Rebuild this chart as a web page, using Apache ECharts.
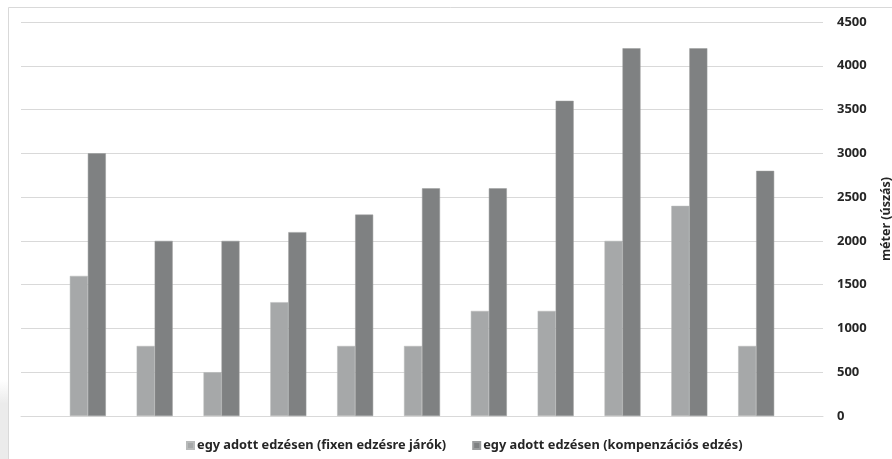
<!DOCTYPE html>
<html>
<head>
<meta charset="utf-8">
<script src="https://cdn.jsdelivr.net/npm/echarts@6/dist/echarts.min.js"></script>
<style>html,body{margin:0;padding:0;background:#fff;}#c{width:892px;height:459px;}</style>
</head>
<body>
<div id="c"></div>
<script>
const categories = ['1','2','3','4','5','6','7','8','9','10','11'];
const seriesNames = ['egy adott edzésen (fixen edzésre járók)', 'egy adott edzésen (kompenzációs edzés)'];
const fixValues = [1600, 800, 500, 1300, 800, 800, 1200, 1200, 2000, 2400, 800];
const kompValues = [3000, 2000, 2000, 2100, 2300, 2600, 2600, 3600, 4200, 4200, 2800];
const yTicks = [0, 500, 1000, 1500, 2000, 2500, 3000, 3500, 4000, 4500];
const axisName = 'méter (úszás)';

const pad = arr => [null].concat(arr, [null]);
const cats = [''].concat(categories, ['']);
const FONT = 'Noto Sans';

const chart = echarts.init(document.getElementById('c'), null, {renderer: 'canvas'});
chart.setOption({
  animation: false,
  backgroundColor: '#fff',
  graphic: [
    {type: 'rect', shape: {x: 0, y: 380, width: 8, height: 79}, style: {fill: new echarts.graphic.LinearGradient(0,0,0,1,[{offset:0,color:'rgba(235,235,235,0)'},{offset:0.3,color:'#ebebeb'},{offset:1,color:'#ebebeb'}])}, silent: true},
    {type: 'rect', shape: {x: 8.5, y: 7.5, width: 900, height: 500}, style: {fill: 'none', stroke: '#d9d9d9', lineWidth: 1}, silent: true}
  ],
  grid: {left: 21, right: 69, top: 22, bottom: 43, containLabel: false, outerBoundsMode: 'none'},
  legend: {
    left: 181, top: 434,
    itemWidth: 7, itemHeight: 7, icon: 'rect', itemGap: 26,
    textStyle: {fontFamily: FONT, fontWeight: 'bold', fontSize: 12.8, color: '#262626', padding: [0,0,0,-2]},
    data: seriesNames
  },
  xAxis: {
    type: 'category', data: cats, boundaryGap: false,
    axisLine: {show: true, lineStyle: {color: '#d9d9d9', width: 1}},
    axisTick: {show: false}, axisLabel: {show: false}, splitLine: {show: false}
  },
  yAxis: {
    type: 'value', position: 'right', min: yTicks[0], max: yTicks[yTicks.length-1], interval: yTicks[1]-yTicks[0],
    axisLine: {show: false}, axisTick: {show: false},
    axisLabel: {margin: 14, fontFamily: FONT, fontWeight: 'bold', fontSize: 13, color: '#262626', formatter: v => String(v)},
    splitLine: {lineStyle: {color: '#d9d9d9', width: 1}},
    name: axisName, nameLocation: 'middle', nameRotate: 90, nameGap: 57,
    nameTextStyle: {fontFamily: FONT, fontWeight: 'bold', fontSize: 12.5, color: '#262626'}
  },
  series: [
    {name: seriesNames[0], type: 'bar', data: pad(fixValues), barWidth: 18, barGap: '0%', itemStyle: {color: '#a6a8a9', borderColor: '#b8baba', borderWidth: 0.5}},
    {name: seriesNames[1], type: 'bar', data: pad(kompValues), barWidth: 18, barGap: '0%', itemStyle: {color: '#7f8182', borderColor: '#9a9c9d', borderWidth: 0.5}}
  ]
});
</script>
</body>
</html>
